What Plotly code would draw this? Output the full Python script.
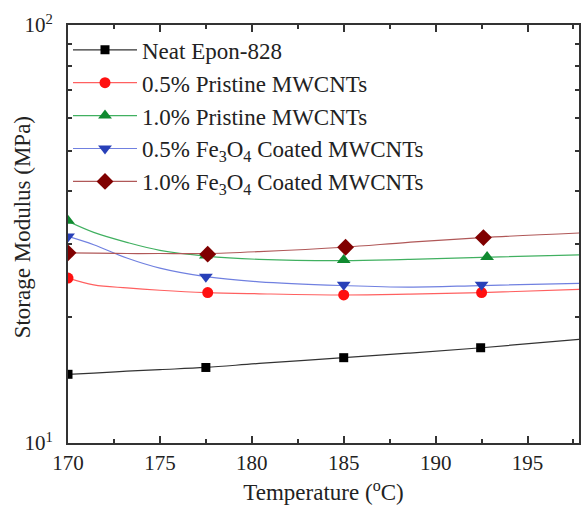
import plotly.graph_objects as go

# ---- data ----
series_names = [
    "Neat Epon-828",
    "0.5% Pristine MWCNTs",
    "1.0% Pristine MWCNTs",
    "0.5% Fe<sub>3</sub>O<sub>4</sub> Coated MWCNTs",
    "1.0% Fe<sub>3</sub>O<sub>4</sub> Coated MWCNTs",
]

temp_line = [170, 171.4, 173.2, 175, 177.5, 180.4, 185, 188.5, 192.5, 197.8]
neat_line = [14.6, 14.7, 14.85, 14.98, 15.16, 15.5, 16.0, 16.4, 16.9, 17.7]
p05_line = [24.8, 23.9, 23.5, 23.2, 22.9, 22.75, 22.6, 22.7, 22.9, 23.3]
p10_line = [33.9, 31.9, 30.2, 28.9, 28.0, 27.5, 27.3, 27.5, 27.8, 28.2]
f05_line = [31.2, 29.8, 27.7, 26.2, 25.0, 24.3, 23.8, 23.6, 23.8, 24.1]
f10_line = [28.5, 28.45, 28.4, 28.4, 28.4, 28.7, 29.4, 30.2, 31.0, 31.8]

neat_mx = [170, 177.5, 185, 192.45]
neat_my = [14.6, 15.16, 16.0, 16.9]
p05_mx = [170, 177.6, 185, 192.5]
p05_my = [24.8, 22.9, 22.6, 22.9]
p10_mx = [170, 177.5, 185, 192.8]
p10_my = [34.0, 28.1, 27.4, 27.85]
f05_mx = [170, 177.5, 185, 192.5]
f05_my = [31.2, 25.0, 23.9, 23.9]
f10_mx = [170, 177.6, 185.1, 192.6]
f10_my = [28.5, 28.3, 29.4, 31.0]

x_ticks = [170, 175, 180, 185, 190, 195]
y_ticks = [10, 100]
y_ticktext = ["10<sup>1</sup>", "10<sup>2</sup>"]
y_minor = [20, 30, 40, 50, 60, 70, 80, 90]

x_title = "Temperature (<sup>o</sup>C)"
y_title = "Storage Modulus (MPa)"

# ---- styles ----
styles = [
    dict(line="#333333", marker="#000000", symbol="square", size=9),
    dict(line="#ff6060", marker="#ff1010", symbol="circle", size=11),
    dict(line="#40b060", marker="#108a30", symbol="triangle-up", size=12),
    dict(line="#7080e0", marker="#2840b8", symbol="triangle-down", size=12),
    dict(line="#b05858", marker="#800000", symbol="diamond", size=13),
]

lines = [neat_line, p05_line, p10_line, f05_line, f10_line]
marks = [(neat_mx, neat_my), (p05_mx, p05_my), (p10_mx, p10_my),
         (f05_mx, f05_my), (f10_mx, f10_my)]

fig = go.Figure()
for name, yl, (mx, my), st in zip(series_names, lines, marks, styles):
    fig.add_trace(go.Scatter(
        x=temp_line, y=yl, mode="lines", line=dict(color=st["line"], width=1.2, shape="spline"),
        showlegend=False, hoverinfo="skip"))
    fig.add_trace(go.Scatter(
        x=mx, y=my, mode="markers",
        marker=dict(color=st["marker"], symbol=st["symbol"], size=st["size"]),
        showlegend=False))
    fig.add_trace(go.Scatter(
        x=[None], y=[None], mode="lines+markers", name=name,
        line=dict(color=st["line"], width=1.2),
        marker=dict(color=st["marker"], symbol=st["symbol"], size=st["size"])))

font_family = "Liberation Serif, Times New Roman, serif"
axis_col = "#333333"
txt_col = "#222222"

fig.update_layout(
    width=584, height=515,
    margin=dict(l=68, r=5, t=25, b=72),
    paper_bgcolor="white", plot_bgcolor="white",
    font=dict(family=font_family, size=22, color=txt_col),
    legend=dict(
        x=0.0, y=0.992, xanchor="left", yanchor="top",
        bgcolor="rgba(0,0,0,0)", itemwidth=64,
        font=dict(size=23, family=font_family, color=txt_col),
        tracegroupgap=0,
    ),
    xaxis=dict(
        range=[170, 197.8], tickvals=x_ticks, ticks="inside", ticklen=7, tickwidth=1.5,
        tickcolor=axis_col, showline=True, linecolor=axis_col, linewidth=2,
        mirror="allticks", showgrid=False, zeroline=False, automargin=False,
        minor=dict(ticks="inside", ticklen=4, dtick=2.5, tick0=170, tickcolor=axis_col, showgrid=False),
        tickfont=dict(size=21, family=font_family, color=txt_col),
        title=dict(text=x_title, font=dict(size=23, family=font_family, color=txt_col), standoff=10),
    ),
    yaxis=dict(
        type="log", range=[1, 2], tickvals=y_ticks, ticktext=y_ticktext,
        ticks="inside", ticklen=7, tickwidth=1.5, tickcolor=axis_col,
        showline=True, linecolor=axis_col, linewidth=2,
        mirror="allticks", showgrid=False, zeroline=False, automargin=False,
        ticklabelstandoff=9,
        minor=dict(ticks="inside", ticklen=4, tickvals=y_minor, tickcolor=axis_col, showgrid=False),
        tickfont=dict(size=21, family=font_family, color=txt_col),
    ),
    annotations=[dict(
        text=y_title, textangle=-90, showarrow=False,
        xref="paper", yref="paper", x=-0.09, y=0.516,
        xanchor="center", yanchor="middle",
        font=dict(size=23, family=font_family, color=txt_col),
    )],
)

fig.write_html("out.html", config={"displayModeBar": False},
               post_script="document.body.style.margin='0';document.body.style.padding='0';")
